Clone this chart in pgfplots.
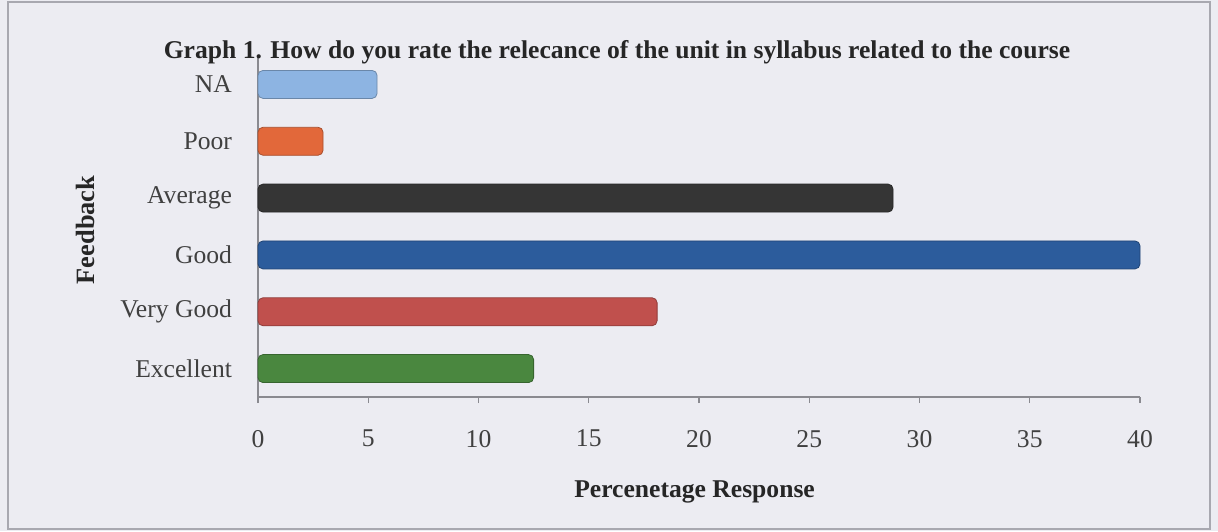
\documentclass[border=0pt]{standalone}
\usepackage{pgfplots}
\pgfplotsset{compat=1.18}
\usepackage{fontspec}
\setmainfont{Liberation Serif}
\definecolor{bgc}{HTML}{ECECF2}
\definecolor{frm}{HTML}{A8A8B0}
\definecolor{cNA}{HTML}{8DB4E2}
\definecolor{cPoor}{HTML}{E2683A}
\definecolor{cAvg}{HTML}{353535}
\definecolor{cGood}{HTML}{2C5C9C}
\definecolor{cVG}{HTML}{C0504D}
\definecolor{cExc}{HTML}{4A873F}
\definecolor{axc}{HTML}{8A8A90}
\begin{document}
\begin{tikzpicture}
\fill[bgc] (0,0) rectangle (609pt,265.5pt);
\draw[frm,line width=0.8pt] (4pt,1pt) rectangle (605pt,264.5pt);
\begin{axis}[
  at={(129pt,67pt)}, anchor=south west,
  width=441pt, height=170.5pt, scale only axis,
  xmin=0, xmax=40, ymin=-0.5, ymax=5.5,
  xtick={0,5,...,40},
  ytick={0,1,2,3,4,5},
  yticklabels={Excellent,Very Good,Good,Average,Poor,NA},
  major y tick style={draw=none},
  extra y ticks={-0.5,0.5,1.5,2.5,3.5,4.5,5.5},
  extra y tick labels={},
  extra y tick style={tick style={axc,line width=0.6pt}, major tick length=4pt, tick align=outside},
  x tick style={axc,line width=0.6pt},
  xtick align=outside, major tick length=3pt,
  axis x line*=bottom, axis y line*=left,
  axis line style={axc,line width=0.8pt,-},
  /pgf/number format/assume math mode=true,
  tick label style={font=\fontsize{12.8}{14}\selectfont, text=black!75},
  xticklabel style={yshift=-10pt},
  yticklabel style={xshift=-6.5pt},
  xlabel={\textbf{Percenetage Response}},
  xlabel style={at={(rel axis cs:0.495,-0.279)}, anchor=center, font=\fontsize{12.8}{14}\selectfont, text=black!85},
  ylabel={\textbf{Feedback}},
  ylabel style={at={(rel axis cs:-0.196,0.49)}, anchor=center, rotate=0, font=\fontsize{13.2}{14}\selectfont, text=black!85},
  xbar, bar width=14pt, bar shift=0pt,
  clip=false,
]
\addplot[fill=cExc, draw=cExc!75!black, rounded corners=2.5pt] coordinates {(12.5,0)};
\addplot[fill=cVG, draw=cVG!75!black, rounded corners=2.5pt] coordinates {(18.1,1)};
\addplot[fill=cGood, draw=cGood!75!black, rounded corners=2.5pt] coordinates {(40,2)};
\addplot[fill=cAvg, draw=cAvg!75!black, rounded corners=2.5pt] coordinates {(28.8,3)};
\addplot[fill=cPoor, draw=cPoor!75!black, rounded corners=2.5pt] coordinates {(2.95,4)};
\addplot[fill=cNA, draw=cNA!75!black, rounded corners=2.5pt] coordinates {(5.4,5)};
\end{axis}
\node[font=\fontsize{12.8}{14}\selectfont, text=black!85, anchor=center] at (308.5pt,239.5pt)
  {\textbf{Graph 1. How do you rate the relecance of the unit in syllabus related to the course}};
\end{tikzpicture}
\end{document}
